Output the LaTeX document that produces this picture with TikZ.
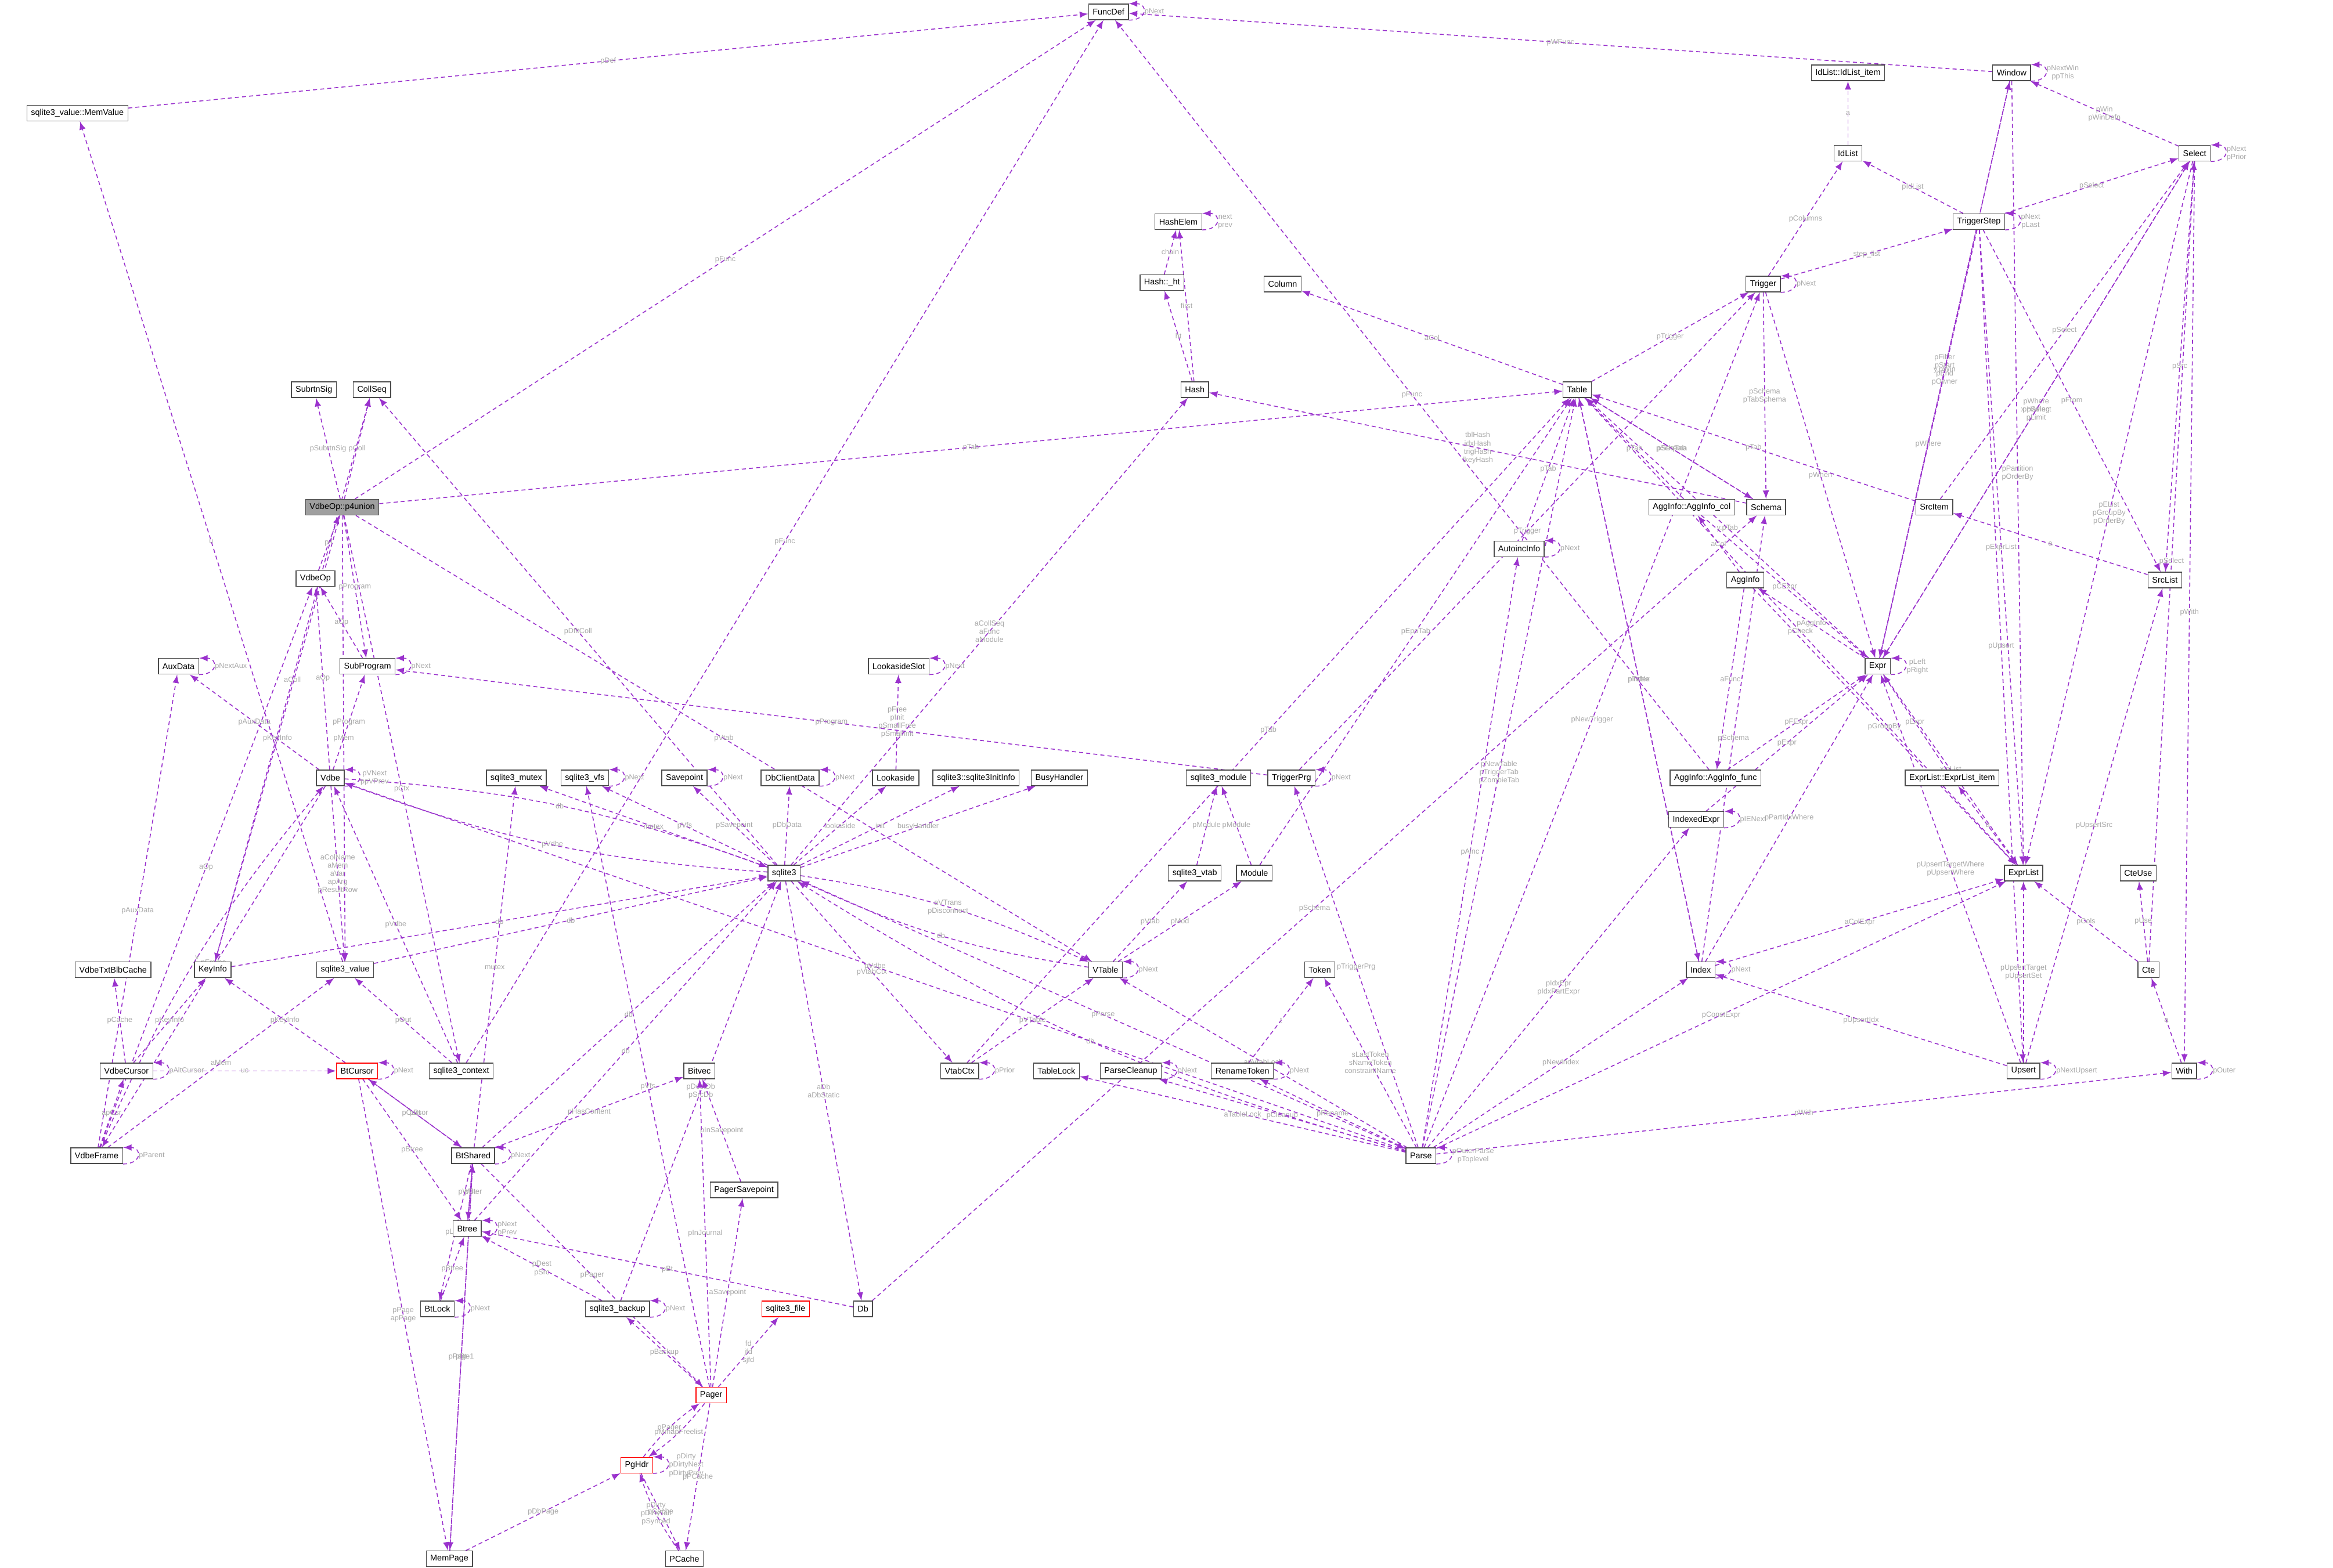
\documentclass[tikz,border=0pt]{standalone}
\usepackage{fontspec}
\setmainfont{Liberation Sans}
\definecolor{refcol}{HTML}{9A32CD}
\definecolor{lblcol}{HTML}{A8A8A8}
\pgfdeclarelayer{edges}
\pgfsetlayers{edges,main}
\begin{document}
\begin{tikzpicture}[x=0.02563cm,y=-0.02563cm,
	cls/.style={draw=gray!60!black,fill=white,font=\fontsize{4.1}{5}\selectfont,inner xsep=2pt,inner ysep=0pt,minimum height=0.27cm},
	root/.style={cls,fill=gray!75},
	warn/.style={cls,draw=red},
	ref/.style={draw=refcol,dash pattern=on 2pt off 1.5pt,line width=0.45pt,-latex},
	lbl/.style={font=\fontsize{3.6}{4}\selectfont,text=lblcol,align=center,inner sep=0.5pt,midway}]
	% Page frame
	\useasboundingbox (0,0) rectangle (1568,1054);

	% Top row
	\node[cls] (funcdef) at (745,8) {FuncDef};
	\node[cls] (memvalue) at (52,76) {sqlite3\_value::MemValue};
	\node[cls] (window) at (1352,49) {Window};
	\node[cls] (idlistitem) at (1242,49) {IdList::IdList\_item};
	\node[cls] (idlist) at (1242,103) {IdList};
	\node[cls] (select) at (1475,103) {Select};
	\node[cls] (trigstep) at (1330,149) {TriggerStep};
	\node[cls] (hashelem) at (792,149) {HashElem};
	\node[cls] (htht) at (781,190) {Hash::\_ht};
	\node[cls] (column) at (862,191) {Column};
	\node[cls] (trigger) at (1185,191) {Trigger};

	% Schema level
	\node[cls] (subrtnsig) at (211,262) {SubrtnSig};
	\node[cls] (collseq) at (250,262) {CollSeq};
	\node[cls] (hash) at (803,262) {Hash};
	\node[cls] (table) at (1060,262) {Table};
	\node[cls] (schema) at (1187,341) {Schema};
	\node[cls] (srcitem) at (1300,341) {SrcItem};
	\node[cls] (aggcol) at (1137,341) {AggInfo::AggInfo\_col};
	\node[root] (p4union) at (230,341) {VdbeOp::p4union};
	\node[cls] (autoinc) at (1021,369) {AutoincInfo};
	\node[cls] (agginfo) at (1173,390) {AggInfo};
	\node[cls] (srclist) at (1455,390) {SrcList};
	\node[cls] (vdbeop) at (212,389) {VdbeOp};
	\node[cls] (auxdata) at (120,448) {AuxData};
	\node[cls] (subprog) at (247,448) {SubProgram};
	\node[cls] (lslot) at (604,448) {LookasideSlot};
	\node[cls] (expr) at (1262,448) {Expr};

	% Middle row
	\node[cls] (vdbe) at (222,523) {Vdbe};
	\node[cls] (mutex) at (347,523) {sqlite3\_mutex};
	\node[cls] (vfs) at (393,523) {sqlite3\_vfs};
	\node[cls] (savepoint) at (460,523) {Savepoint};
	\node[cls] (dbclient) at (531,523) {DbClientData};
	\node[cls] (lookaside) at (602,523) {Lookaside};
	\node[cls] (initinfo) at (656,523) {sqlite3::sqlite3InitInfo};
	\node[cls] (busy) at (712,523) {BusyHandler};
	\node[cls] (module3) at (819,523) {sqlite3\_module};
	\node[cls] (trigprg) at (868,523) {TriggerPrg};
	\node[cls] (aggfunc) at (1153,523) {AggInfo::AggInfo\_func};
	\node[cls] (elitem) at (1312,523) {ExprList::ExprList\_item};
	\node[cls] (idxexpr) at (1140,551) {IndexedExpr};
	\node[cls] (sqlite) at (527,587) {sqlite3};
	\node[cls] (vtab3) at (803,587) {sqlite3\_vtab};
	\node[cls] (module) at (843,587) {Module};
	\node[cls] (exprlist) at (1360,587) {ExprList};
	\node[cls] (cteuse) at (1437,587) {CteUse};
	\node[cls] (txtblb) at (76,652) {VdbeTxtBlbCache};
	\node[cls] (keyinfo) at (143,652) {KeyInfo};
	\node[cls] (value) at (232,652) {sqlite3\_value};
	\node[cls] (vtable) at (743,652) {VTable};
	\node[cls] (token) at (887,652) {Token};
	\node[cls] (index) at (1143,652) {Index};
	\node[cls] (cte) at (1444,652) {Cte};

	% Lower rows
	\node[cls] (vcursor) at (85,720) {VdbeCursor};
	\node[warn] (btcursor) at (240,720) {BtCursor};
	\node[cls] (context) at (310,720) {sqlite3\_context};
	\node[cls] (bitvec) at (470,720) {Bitvec};
	\node[cls] (vtabctx) at (645,720) {VtabCtx};
	\node[cls] (tablelock) at (710,720) {TableLock};
	\node[cls] (cleanup) at (760,720) {ParseCleanup};
	\node[cls] (rentoken) at (835,720) {RenameToken};
	\node[cls] (upsert) at (1360,720) {Upsert};
	\node[cls] (with) at (1468,720) {With};
	\node[cls] (vframe) at (65,777) {VdbeFrame};
	\node[cls] (btshared) at (318,777) {BtShared};
	\node[cls] (pgsave) at (500,800) {PagerSavepoint};
	\node[cls] (parse) at (955,777) {Parse};
	\node[cls] (btree) at (314,826) {Btree};
	\node[cls] (btlock) at (294,880) {BtLock};
	\node[cls] (backup) at (415,880) {sqlite3\_backup};
	\node[warn] (file) at (528,880) {sqlite3\_file};
	\node[cls] (db) at (580,880) {Db};
	\node[warn] (pager) at (478,938) {Pager};
	\node[warn] (pghdr) at (428,985) {PgHdr};
	\node[cls] (mempage) at (302,1048) {MemPage};
	\node[cls] (pcache) at (460,1048) {PCache};

	\begin{pgfonlayer}{edges}
	% Members (container to type)
	\foreach \a/\b/\l in {
		p4union/funcdef/pFunc, memvalue/funcdef/pDef, p4union/collseq/pColl,
		p4union/subrtnsig/pSubrtnSig, p4union/table/pTab, p4union/vtable/pVtab,
		p4union/keyinfo/pKeyInfo, p4union/value/pMem, p4union/subprog/pProgram,
		p4union/context/pCtx, vdbeop/p4union/p4, subprog/vdbeop/aOp, vdbe/vdbeop/aOp,
		vdbe/subprog/pProgram, vdbe/auxdata/pAuxData, {vdbe}/{value}/{aColName\\aMem\\aVar\\apArg\\pResultRow},
		vdbe/vframe/{pFrame\\pDelFrame}, vframe/vcursor/apCsr,
		vframe/auxdata/pAuxData, vframe/vdbeop/aOp, vframe/value/aMem,
		vcursor/txtblb/pCache, vcursor/keyinfo/pKeyInfo, vcursor/btcursor/uc,
		keyinfo/sqlite/db, keyinfo/collseq/aColl, value/sqlite/db, value/memvalue/u,
		context/value/pOut, context/vdbe/pVdbe, context/funcdef/pFunc,
		btcursor/btshared/pBt, btcursor/btree/pBtree, btcursor/keyinfo/pKeyInfo,
		btcursor/mempage/{pPage\\apPage}, btshared/sqlite/db, btshared/mutex/mutex,
		btshared/bitvec/pHasContent, btshared/btcursor/pCursor, btshared/btree/pWriter,
		btshared/btlock/pLock, btshared/pager/pPager, btshared/mempage/pPage1,
		btree/btshared/pBt, btree/sqlite/db, btlock/btree/pBtree, mempage/btshared/pBt,
		mempage/pghdr/pDbPage, backup/sqlite/{pDestDb\\pSrcDb}, backup/btree/{pDest\\pSrc},
		pager/backup/pBackup, pager/file/{fd\\jfd\\sjfd}, pager/bitvec/pInJournal,
		pager/pgsave/aSavepoint, pager/pcache/pPCache, pager/vfs/pVfs,
		pgsave/bitvec/pInSavepoint, pghdr/pcache/pCache, db/btree/pBt, db/schema/pSchema,
		sqlite/mutex/mutex, sqlite/vfs/pVfs, sqlite/savepoint/pSavepoint,
		sqlite/dbclient/pDbData, sqlite/lookaside/lookaside, lookaside/lslot/{pFree\\pInit\\pSmallFree\\pSmallInit},
		sqlite/initinfo/init, sqlite/busy/busyHandler, sqlite/hash/{aCollSeq\\aFunc\\aModule},
		sqlite/collseq/pDfltColl, sqlite/vtabctx/pVtabCtx,
		sqlite/parse/pParse, sqlite/db/{aDb\\aDbStatic}, vtable/vtab3/pVtab, vtable/module/pMod,
		module/module3/pModule, vtab3/module3/pModule, module/table/pEpoTab,
		vtabctx/vtable/pVTable, vtabctx/table/pTab, hash/hashelem/first, hash/htht/ht,
		htht/hashelem/chain, schema/hash/{tblHash\\idxHash\\trigHash\\fkeyHash},
		schema/table/pSeqTab, table/column/aCol, table/schema/pSchema, table/trigger/pTrigger,
		table/index/pIndex, table/exprlist/pCheck, trigger/schema/{pSchema\\pTabSchema},
		trigger/trigstep/step\_list, trigger/expr/pWhen, trigger/idlist/pColumns,
		trigstep/select/pSelect, trigstep/idlist/pIdList, trigstep/srclist/pFrom,
		trigstep/expr/pWhere, trigstep/exprlist/pExprList, trigstep/upsert/pUpsert,
		idlist/idlistitem/a, window/funcdef/pWFunc, window/expr/{pFilter\\pStart\\pEnd\\pOwner},
		window/exprlist/{pPartition\\pOrderBy}, select/window/{pWin\\pWinDefn},
		select/srclist/pSrc, select/exprlist/{pEList\\pGroupBy\\pOrderBy},
		select/expr/{pWhere\\pHaving\\pLimit}, select/with/pWith, srcitem/table/pTab,
		srcitem/select/pSelect, srclist/srcitem/a, expr/table/y.pTab, expr/agginfo/pAggInfo,
		expr/window/y.pWin, expr/select/x.pSelect, expr/exprlist/x.pList,
		exprlist/elitem/a, elitem/expr/pExpr, agginfo/aggcol/aCol, agginfo/aggfunc/aFunc,
		agginfo/exprlist/pGroupBy, aggcol/table/pTab, aggcol/expr/pCExpr,
		aggfunc/funcdef/pFunc, aggfunc/expr/pFExpr, idxexpr/expr/pExpr,
		index/table/pTable, index/expr/pPartIdxWhere, index/exprlist/aColExpr,
		index/schema/pSchema, cte/cteuse/pUse, cte/select/pSelect, cte/exprlist/pCols,
		with/cte/a, upsert/exprlist/{pUpsertTarget\\pUpsertSet},
		upsert/expr/{pUpsertTargetWhere\\pUpsertWhere}, upsert/index/pUpsertIdx,
		upsert/srclist/pUpsertSrc, autoinc/table/pTab, trigprg/trigger/pTrigger,
		trigprg/subprog/pProgram, rentoken/token/t, parse/vdbe/pVdbe,
		parse/table/{pNewTable\\pTriggerTab\\pZombieTab}, parse/trigger/pNewTrigger,
		parse/trigprg/pTriggerPrg, parse/autoinc/pAinc,
		parse/token/{sLastToken\\sNameToken\\constraintName}, parse/rentoken/pRename,
		parse/cleanup/pCleanup, parse/tablelock/aTableLock, parse/index/pNewIndex,
		parse/idxexpr/{pIdxEpr\\pIdxPartExpr}, parse/exprlist/pConstExpr, parse/with/pWith,
		parse/vtable/apVtabLock}
	\draw[ref] (\a) -- node[lbl]{\l} (\b);

	% Pairs that point both ways
	\foreach \a/\b/\l in {vdbe/sqlite/db, sqlite/vdbe/pVdbe, vtable/sqlite/db,
		sqlite/vtable/{aVTrans\\pDisconnect}, pghdr/pager/pPager,
		pager/pghdr/pMmapFreelist, pcache/pghdr/{pDirty\\pDirtyTail\\pSynced},
		vframe/vdbe/v, parse/sqlite/db}
	\draw[ref] (\a) to[bend left=8] node[lbl]{\l} (\b);

	% Self references
	\foreach \n/\l in {funcdef/pNext, subprog/pNext, vdbe/{pVNext\\ppVPrev},
		auxdata/pNextAux, vframe/pParent, vcursor/pAltCursor, btcursor/pNext,
		btshared/pNext, btree/{pNext\\pPrev}, btlock/pNext, backup/pNext,
		pghdr/{pDirty\\pDirtyNext\\pDirtyPrev}, vfs/pNext, savepoint/pNext,
		dbclient/pNext, lslot/pNext, vtable/pNext, hashelem/{next\\prev},
		trigger/pNext, trigstep/{pNext\\pLast}, window/{pNextWin\\ppThis},
		select/{pNext\\pPrior}, expr/{pLeft\\pRight}, idxexpr/pIENext, index/pNext,
		with/pOuter, upsert/pNextUpsert, autoinc/pNext, trigprg/pNext,
		rentoken/pNext, cleanup/pNext, vtabctx/pPrior, parse/{pOuterParse\\pToplevel}}
	\draw[ref] (\n.south east) to[out=0,in=0,looseness=3] node[lbl,right]{\l} (\n.north east);
	\end{pgfonlayer}

\end{tikzpicture}
\end{document}
